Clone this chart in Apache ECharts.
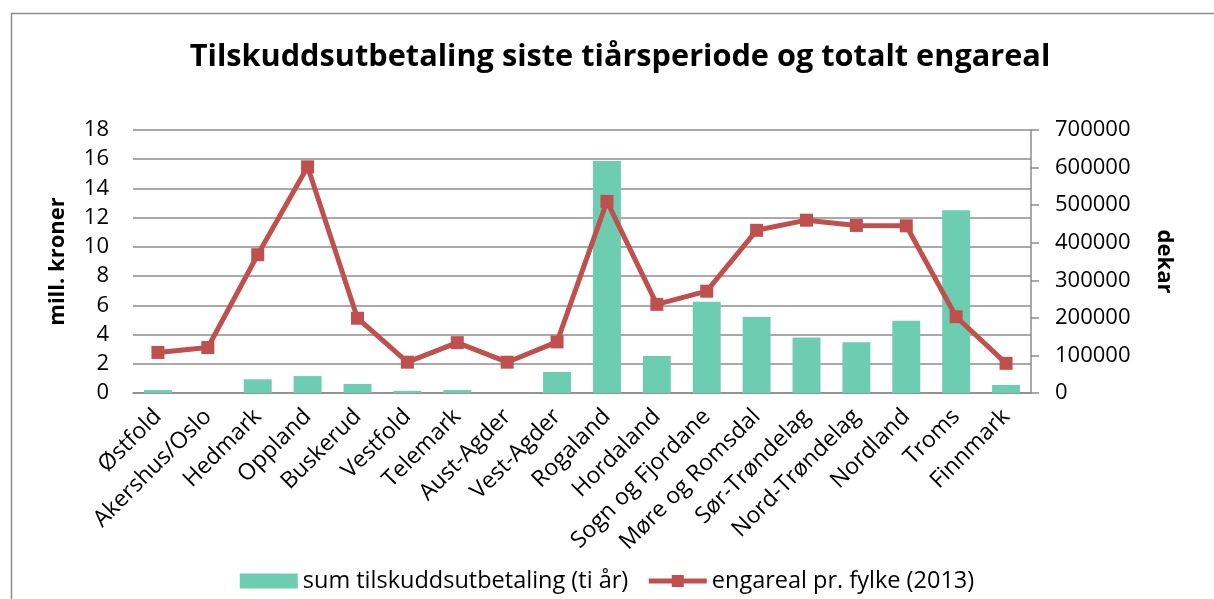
<!DOCTYPE html>
<html>
<head>
<meta charset="utf-8">
<script src="https://cdn.jsdelivr.net/npm/echarts@6/dist/echarts.min.js"></script>
<style>
  html, body { margin: 0; padding: 0; background: #fff; }
  #chart { width: 1214px; height: 599px; }
</style>
</head>
<body>
<div id="chart"></div>
<script>
// fylker
const fylker = ['Østfold', 'Akershus/Oslo', 'Hedmark', 'Oppland', 'Buskerud', 'Vestfold', 'Telemark', 'Aust-Agder', 'Vest-Agder', 'Rogaland', 'Hordaland', 'Sogn og Fjordane', 'Møre og Romsdal', 'Sør-Trøndelag', 'Nord-Trøndelag', 'Nordland', 'Troms', 'Finnmark']
// sum tilskuddsutbetaling, mill. kroner
const tilskudd = [0.2, 0, 0.94, 1.16, 0.62, 0.15, 0.2, 0, 1.44, 15.87, 2.53, 6.25, 5.2, 3.8, 3.47, 4.95, 12.5, 0.55]
// engareal, dekar
const engareal = [108000, 121000, 368000, 602000, 199000, 82000, 134000, 82000, 136000, 510000, 236000, 271000, 433000, 460000, 446000, 445000, 203000, 79000]

const font = 'Open Sans'
const chart = echarts.init(document.getElementById('chart'))

chart.setOption({
  textStyle: { fontFamily: font },
  animation: false,
  title: {
    text: 'Tilskuddsutbetaling siste tiårsperiode og totalt engareal',
    left: 615,
    textAlign: 'center',
    top: 37,
    textStyle: { fontSize: 30.7, fontWeight: 'bold', color: '#000', fontFamily: font }
  },
  graphic: [{
    type: 'rect',
    shape: { x: 11.5, y: 13.5, width: 1210, height: 600 },
    style: { fill: 'none', stroke: '#8c8c8c', lineWidth: 1.5 },
    silent: true
  }],
  legend: {
    bottom: 1,
    left: 'center',
    itemWidth: 58,
    itemHeight: 15,
    itemGap: 18,
    textStyle: { fontSize: 23.5, color: '#000', fontFamily: font },
    data: [
      { name: 'sum tilskuddsutbetaling (ti år)', icon: 'rect' },
      { name: 'engareal pr. fylke (2013)', itemStyle: { color: '#c0504d' }, lineStyle: { width: 5, color: '#c0504d' } }
    ]
  },
  grid: { left: 133, right: 183, top: 130, bottom: 206 },
  xAxis: {
    type: 'category',
    data: fylker,
    axisLine: { lineStyle: { color: '#8c8c8c', width: 1.5 } },
    axisTick: { show: false },
    axisLabel: { rotate: 45, interval: 0, fontSize: 23, color: '#000', margin: 20 }
  },
  yAxis: [{
    type: 'value',
    min: 0,
    max: 18,
    interval: 2,
    name: 'mill. kroner',
    nameLocation: 'middle',
    nameGap: 64,
    nameTextStyle: { fontSize: 22, fontWeight: 'bold', color: '#000' },
    axisLine: { show: false },
    axisTick: { show: false },
    axisLabel: { fontSize: 22, color: '#000', margin: 24 },
    splitLine: { lineStyle: { color: '#8c8c8c', width: 1.5 } }
  }, {
    type: 'value',
    position: 'right',
    min: 0,
    max: 700000,
    interval: 100000,
    name: 'dekar',
    nameLocation: 'middle',
    nameRotate: -90,
    nameGap: 122,
    nameTextStyle: { fontSize: 22, fontWeight: 'bold', color: '#000' },
    axisLine: { show: true, lineStyle: { color: '#8c8c8c', width: 1.5 } },
    axisTick: { show: true, length: 8, lineStyle: { color: '#8c8c8c', width: 1.5 } },
    axisLabel: { fontSize: 22, color: '#000', margin: 24, formatter: v => String(v) },
    splitLine: { show: false }
  }],
  series: [{
    type: 'bar',
    name: 'sum tilskuddsutbetaling (ti år)',
    data: tilskudd,
    barWidth: '56%',
    itemStyle: { color: '#6dcdb1' }
  }, {
    type: 'line',
    name: 'engareal pr. fylke (2013)',
    yAxisIndex: 1,
    data: engareal,
    symbol: 'rect',
    symbolSize: 13,
    lineStyle: { color: '#c0504d', width: 5 },
    itemStyle: { color: '#c0504d' }
  }]
})
</script>
</body>
</html>
